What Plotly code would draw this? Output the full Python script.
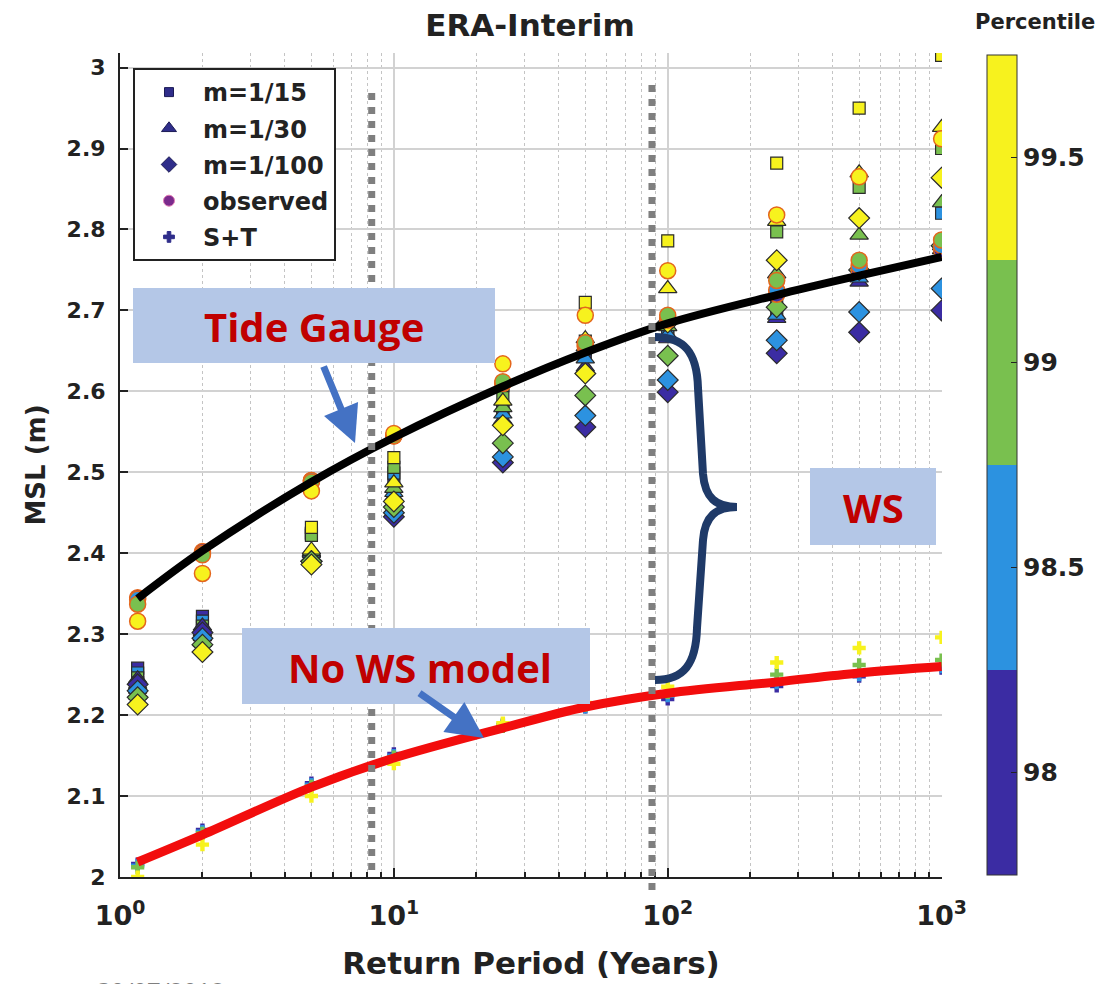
import plotly.graph_objects as go

# ---------------- data ----------------
return_period = [1.16, 2, 5, 10, 25, 50, 100, 250, 500, 1000]
percentiles = [98, 98.5, 99, 99.5]

# m = 1/15 (squares), one list per percentile
m15_p98 = [2.258, 2.322, 2.425, 2.490, 2.575, 2.645, 2.670, 2.700, 2.740, 2.770]
m15_p985 = [2.252, 2.316, 2.424, 2.499, 2.580, 2.652, 2.675, 2.710, 2.750, 2.820]
m15_p99 = [2.246, 2.310, 2.422, 2.506, 2.595, 2.662, 2.685, 2.797, 2.852, 2.900]
m15_p995 = [2.240, 2.305, 2.432, 2.518, 2.607, 2.710, 2.786, 2.882, 2.950, 3.015]

# m = 1/30 (triangles)
m30_p98 = [2.245, 2.310, 2.400, 2.470, 2.565, 2.630, 2.665, 2.690, 2.735, 2.775]
m30_p985 = [2.238, 2.303, 2.400, 2.475, 2.572, 2.640, 2.670, 2.694, 2.740, 2.780]
m30_p99 = [2.232, 2.297, 2.402, 2.480, 2.580, 2.655, 2.680, 2.745, 2.793, 2.833]
m30_p995 = [2.225, 2.290, 2.404, 2.487, 2.588, 2.665, 2.727, 2.810, 2.870, 2.926]

# m = 1/100 (diamonds)
m100_p98 = [2.238, 2.302, 2.390, 2.445, 2.512, 2.556, 2.599, 2.647, 2.673, 2.700]
m100_p985 = [2.230, 2.295, 2.390, 2.450, 2.519, 2.570, 2.614, 2.663, 2.698, 2.727]
m100_p99 = [2.222, 2.287, 2.390, 2.457, 2.536, 2.595, 2.644, 2.704, 2.750, 2.780]
m100_p995 = [2.213, 2.278, 2.386, 2.464, 2.558, 2.622, 2.685, 2.762, 2.814, 2.864]

# observed (circles)
obs_p98 = [2.345, 2.402, 2.490, 2.545, 2.610, 2.655, 2.688, 2.720, 2.750, 2.775]
obs_p985 = [2.343, 2.400, 2.490, 2.545, 2.610, 2.657, 2.690, 2.725, 2.755, 2.780]
obs_p99 = [2.337, 2.398, 2.488, 2.545, 2.612, 2.660, 2.694, 2.737, 2.762, 2.787]
obs_p995 = [2.316, 2.375, 2.477, 2.548, 2.634, 2.694, 2.749, 2.818, 2.865, 2.912]

# S+T (plus)
st_p98 = [2.016, 2.058, 2.116, 2.152, 2.188, 2.210, 2.220, 2.236, 2.248, 2.258]
st_p985 = [2.014, 2.056, 2.114, 2.150, 2.187, 2.210, 2.224, 2.240, 2.250, 2.260]
st_p99 = [2.012, 2.054, 2.112, 2.148, 2.186, 2.212, 2.228, 2.250, 2.262, 2.268]
st_p995 = [2.000, 2.040, 2.100, 2.140, 2.190, 2.215, 2.235, 2.265, 2.283, 2.296]

# fitted curves
tide_gauge = [2.344, 2.403, 2.488, 2.543, 2.606, 2.648, 2.684, 2.719, 2.743, 2.766]
no_ws_model = [2.0185, 2.052, 2.111, 2.147, 2.184, 2.210, 2.227, 2.241, 2.252, 2.260]

# vertical reference lines (years)
ref_periods = [8.3, 87.6]

x_tickvals = [1, 10, 100, 1000]
x_ticktext = ["10<sup>0</sup>", "10<sup>1</sup>", "10<sup>2</sup>", "10<sup>3</sup>"]
cbar_ticks = [98, 98.5, 99, 99.5]

# ---------------- style ----------------
C1, C2, C3, C4 = "#3b2ca3", "#2c92e0", "#79c04f", "#f7f21e"
colorscale = [[0, C1], [0.25, C1], [0.25, C2], [0.5, C2],
              [0.5, C3], [0.75, C3], [0.75, C4], [1, C4]]
CMIN, CMAX = 97.75, 99.75
AX_FONT = "DejaVu Sans"
NOTE_FONT = "Open Sans"

W, H = 1099, 984
L, R, T, B = 120, 942, 53, 877  # plot area in pixels


def px(xp):
    return (xp - L) / (R - L)


def py(yp):
    return (B - yp) / (B - T)


fig = go.Figure()


def add_series(groups, symbol, size, line_color, line_width, with_bar=False):
    xs, ys, cs = [], [], []
    for p, vals in zip(percentiles, groups):
        xs += return_period
        ys += vals
        cs += [p] * len(vals)
    marker = dict(symbol=symbol, size=size, color=cs, colorscale=colorscale,
                  cmin=CMIN, cmax=CMAX,
                  line=dict(color=line_color, width=line_width))
    if with_bar:
        marker["showscale"] = True
        marker["colorbar"] = dict(
            x=px(987), xanchor="left", xref="paper", xpad=0, ypad=0,
            y=py(465), yanchor="middle",
            thickness=30, lenmode="pixels", len=820,
            outlinecolor="#333333", outlinewidth=1,
            tickvals=cbar_ticks, ticktext=["98", "98.5", "99", "99.5"],
            ticks="inside", ticklen=6, tickcolor="#222222",
            tickfont=dict(family=AX_FONT, size=25, color="#222222", weight="bold"),
        )
    fig.add_trace(go.Scatter(x=xs, y=ys, mode="markers", marker=marker,
                             showlegend=False, hoverinfo="skip"))


add_series([m15_p98, m15_p985, m15_p99, m15_p995], "square", 12, "#2b2b2b", 1.2, True)
add_series([m30_p98, m30_p985, m30_p99, m30_p995], "triangle-up", 16, "#2b2b2b", 1.2)
add_series([m100_p98, m100_p985, m100_p99, m100_p995], "diamond", 16, "#2b2b2b", 1.2)
add_series([obs_p98, obs_p985, obs_p99, obs_p995], "circle", 16, "#e4661c", 1.5)
add_series([st_p98, st_p985, st_p99, st_p995], "cross", 11, "rgba(0,0,0,0)", 0)

fig.add_trace(go.Scatter(x=return_period, y=tide_gauge, mode="lines",
                         line=dict(color="black", width=8, shape="spline", smoothing=1.0),
                         showlegend=False, hoverinfo="skip"))
fig.add_trace(go.Scatter(x=return_period, y=no_ws_model, mode="lines",
                         line=dict(color="#f20d0d", width=9, shape="spline", smoothing=1.0),
                         showlegend=False, hoverinfo="skip"))

# legend-only traces
LEG = "#2f2d8a"
legend_items = [
    ("m=1/15", "square", 9, LEG, "#1c1b55"),
    ("m=1/30", "triangle-up", 13, LEG, "#1c1b55"),
    ("m=1/100", "diamond", 12, LEG, "#1c1b55"),
    ("observed", "circle", 11, "#7a2a8c", "#e07ab5"),
    ("S+T", "cross", 9, LEG, LEG),
]
for i, (name, sym, sz, col, lc) in enumerate(legend_items):
    fig.add_trace(go.Scatter(x=[None], y=[None], mode="markers", name=name,
                             legendgroup="g%d" % i,
                             marker=dict(symbol=sym, size=sz, color=col,
                                         line=dict(color=lc, width=1))))

shapes = []
# dotted vertical reference lines
for per, (y0, y1) in zip(ref_periods, [(870, 92), (890, 78)]):
    shapes.append(dict(type="line", xref="x", yref="paper",
                       x0=per, x1=per, y0=py(y0), y1=py(y1),
                       line=dict(color="#7f7f7f", width=7, dash="dot")))

BOX = "#b4c7e7"
for (x0, y0, x1, y1) in [(133, 288, 495, 363), (810, 468, 936, 545), (242, 628, 590, 704)]:
    shapes.append(dict(type="rect", xref="paper", yref="paper",
                       x0=px(x0), x1=px(x1), y0=py(y1), y1=py(y0),
                       fillcolor=BOX, line=dict(width=0)))

# curly brace
brace_pts = [
    ("M", [(655, 337)]),
    ("C", [(684, 337), (697, 352), (698, 388)]),
    ("L", [(703, 474)]),
    ("C", [(705, 498), (716, 507), (737, 507)]),
    ("C", [(716, 507), (705, 516), (703, 540)]),
    ("L", [(697, 628)]),
    ("C", [(696, 664), (684, 680), (655, 680)]),
]
path = ""
for cmd, pts in brace_pts:
    path += cmd + " " + " ".join("%.5f,%.5f" % (px(a), py(b)) for a, b in pts) + " "
shapes.append(dict(type="path", xref="paper", yref="paper", path=path.strip(),
                   line=dict(color="#1f3a68", width=8), fillcolor="rgba(0,0,0,0)"))

annotations = [
    dict(text="Tide Gauge", x=px(314), y=py(326)),
    dict(text="WS", x=px(873), y=py(507)),
    dict(text="No WS model", x=px(420), y=py(667)),
]
for a in annotations:
    a.update(xref="paper", yref="paper", showarrow=False, xanchor="center", yanchor="middle",
             font=dict(family=NOTE_FONT, size=40, color="#c00000", weight="bold"))

# arrows
for tip, tail in [((355, 443), (323, 365)), ((484, 738), (418, 692))]:
    annotations.append(dict(x=px(tip[0]), y=py(tip[1]), xref="paper", yref="paper",
                            text="", showarrow=True, arrowhead=2, arrowsize=1.05,
                            arrowwidth=7, arrowcolor="#4472c4",
                            ax=tail[0] - tip[0], ay=tail[1] - tip[1]))

annotations.append(dict(text="Percentile", x=px(1035), y=py(22), xref="paper", yref="paper",
                        showarrow=False, xanchor="center", yanchor="middle",
                        font=dict(family=AX_FONT, size=21, color="#222222", weight="bold")))
annotations.append(dict(text="30/07/2018", x=px(160), y=py(972), xref="paper", yref="paper",
                        showarrow=False, xanchor="center", yanchor="top",
                        font=dict(family=NOTE_FONT, size=24, color="#7f7f7f")))

minor_vals = [m * 10 ** e for e in range(3) for m in range(2, 10)]

fig.update_layout(
    width=W, height=H,
    margin=dict(l=L, r=W - R, t=T, b=H - B, pad=0, autoexpand=False),
    paper_bgcolor="white", plot_bgcolor="white",
    title=dict(text="ERA-Interim", x=px(530), xref="paper", xanchor="center",
               y=1 - 25 / H, yanchor="middle",
               font=dict(family=AX_FONT, size=31, color="#222222", weight="bold")),
    shapes=shapes, annotations=annotations,
    showlegend=True,
    legend=dict(x=px(133), y=py(68), xanchor="left", yanchor="top",
                xref="paper", yref="paper",
                bgcolor="white", bordercolor="#222222", borderwidth=2,
                font=dict(family=AX_FONT, size=24, color="#222222", weight="bold"),
                tracegroupgap=2, traceorder="grouped", itemwidth=58),
    xaxis=dict(type="log", range=[0, 3.0015],
               tickvals=x_tickvals, ticktext=x_ticktext,
               ticks="inside", ticklen=9, tickwidth=2, tickcolor="#222222",
               showline=True, linecolor="#222222", linewidth=2, mirror=False,
               showgrid=True, gridcolor="#d2d2d2", gridwidth=2, zeroline=False,
               ticklabelstandoff=14,
               minor=dict(tickvals=minor_vals, ticks="inside", ticklen=5, tickcolor="#222222",
                          showgrid=True, gridcolor="#c4c4c4", griddash="dot", gridwidth=1),
               tickfont=dict(family=AX_FONT, size=27, color="#222222", weight="bold"),
               title=dict(text="Return Period (Years)", standoff=22,
                          font=dict(family=AX_FONT, size=31, color="#222222", weight="bold"))),
    yaxis=dict(range=[2, 3.018], tick0=2, dtick=0.1,
               ticks="inside", ticklen=8, tickwidth=2, tickcolor="#222222",
               showline=True, linecolor="#222222", linewidth=2, mirror=False,
               showgrid=True, gridcolor="#d2d2d2", gridwidth=2, zeroline=False,
               ticklabelstandoff=8,
               tickfont=dict(family=AX_FONT, size=22, color="#222222", weight="bold"),
               title=dict(text="MSL (m)", standoff=14,
                          font=dict(family=AX_FONT, size=26, color="#222222", weight="bold"))),
)

fig.write_html("out.html")
